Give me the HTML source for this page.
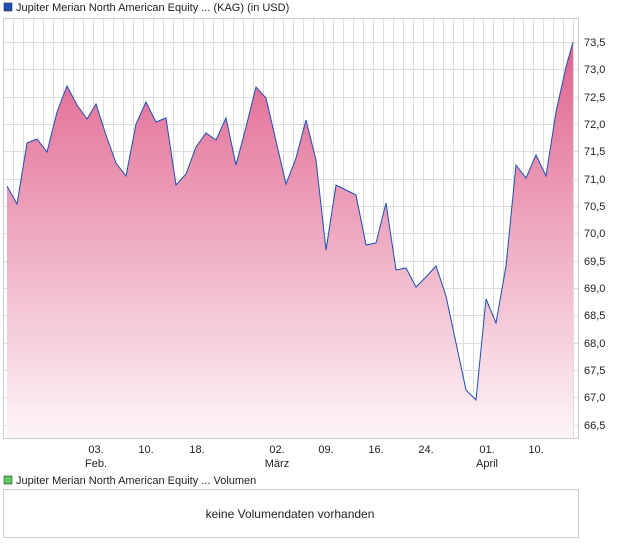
<!DOCTYPE html>
<html><head><meta charset="utf-8"><style>
body{margin:0;background:#fff;width:620px;height:546px;overflow:hidden;font-family:"Liberation Sans",sans-serif;}
</style></head><body>
<svg width="620" height="546" xmlns="http://www.w3.org/2000/svg" font-family="Liberation Sans, sans-serif">
<defs>
<linearGradient id="g" x1="0" y1="0" x2="0" y2="1">
<stop offset="0" stop-color="#e0628e"/><stop offset="1" stop-color="#fdf5f8"/>
</linearGradient>
<pattern id="vg" x="3" y="0" width="10" height="10" patternUnits="userSpaceOnUse"><line x1="0.5" y1="0" x2="0.5" y2="10" stroke="#dcdcdc"/></pattern>
</defs>
<rect x="4" y="3" width="8" height="8" fill="#1c4fb5" stroke="#333" stroke-width="0.6"/>
<text x="16" y="11" font-size="11" fill="#222">Jupiter Merian North American Equity ... (KAG) (in USD)</text>
<rect x="3.5" y="18.5" width="575" height="420" fill="#fff" stroke="#ccc"/>
<rect x="4" y="19" width="574" height="419" fill="url(#vg)"/>
<g stroke="#dcdcdc">
<line x1="4" x2="578" y1="42.5" y2="42.5"/><line x1="4" x2="578" y1="69.5" y2="69.5"/><line x1="4" x2="578" y1="97.5" y2="97.5"/><line x1="4" x2="578" y1="124.5" y2="124.5"/><line x1="4" x2="578" y1="151.5" y2="151.5"/><line x1="4" x2="578" y1="179.5" y2="179.5"/><line x1="4" x2="578" y1="206.5" y2="206.5"/><line x1="4" x2="578" y1="233.5" y2="233.5"/><line x1="4" x2="578" y1="261.5" y2="261.5"/><line x1="4" x2="578" y1="288.5" y2="288.5"/><line x1="4" x2="578" y1="315.5" y2="315.5"/><line x1="4" x2="578" y1="343.5" y2="343.5"/><line x1="4" x2="578" y1="370.5" y2="370.5"/><line x1="4" x2="578" y1="397.5" y2="397.5"/><line x1="4" x2="578" y1="425.5" y2="425.5"/>
</g>
<path d="M7,186 L17,204 L27,143 L37,139 L47,152 L57,112 L67,86 L77,105 L87,119 L96,104 L106,135 L116,163 L126,176 L136,124 L146,102 L156,122 L166,118 L176,185 L186,174 L196,147 L206,133 L216,140 L226,118 L236,165 L246,127 L256,87 L266,98 L276,141 L286,184 L296,158 L306,120 L316,160 L326,250 L336,185 L346,190 L356,195 L366,245 L376,243 L386,203 L396,270 L406,268 L416,287 L426,277 L436,266 L446,296 L456,343 L466,390 L476,400 L486,299 L496,323 L506,266 L516,165 L526,178 L536,155 L546,176 L556,112 L566,67 L573,42 L573,438 L7,438 Z" fill="url(#g)"/>
<path d="M7,186 L17,204 L27,143 L37,139 L47,152 L57,112 L67,86 L77,105 L87,119 L96,104 L106,135 L116,163 L126,176 L136,124 L146,102 L156,122 L166,118 L176,185 L186,174 L196,147 L206,133 L216,140 L226,118 L236,165 L246,127 L256,87 L266,98 L276,141 L286,184 L296,158 L306,120 L316,160 L326,250 L336,185 L346,190 L356,195 L366,245 L376,243 L386,203 L396,270 L406,268 L416,287 L426,277 L436,266 L446,296 L456,343 L466,390 L476,400 L486,299 L496,323 L506,266 L516,165 L526,178 L536,155 L546,176 L556,112 L566,67 L573,42" fill="none" stroke="#1c4fb5" stroke-width="1"/>
<g font-size="11" fill="#222">
<text x="584" y="46">73,5</text><text x="584" y="73">73,0</text><text x="584" y="101">72,5</text><text x="584" y="128">72,0</text><text x="584" y="155">71,5</text><text x="584" y="183">71,0</text><text x="584" y="210">70,5</text><text x="584" y="237">70,0</text><text x="584" y="265">69,5</text><text x="584" y="292">69,0</text><text x="584" y="319">68,5</text><text x="584" y="347">68,0</text><text x="584" y="374">67,5</text><text x="584" y="401">67,0</text><text x="584" y="429">66,5</text>
</g>
<g font-size="11" fill="#222" text-anchor="middle">
<text x="96" y="453">03.</text><text x="96" y="467">Feb.</text>
<text x="146" y="453">10.</text><text x="197" y="453">18.</text>
<text x="277" y="453">02.</text><text x="277" y="467">März</text>
<text x="326" y="453">09.</text><text x="376" y="453">16.</text><text x="426" y="453">24.</text>
<text x="487" y="453">01.</text><text x="487" y="467">April</text><text x="536" y="453">10.</text>
</g>
<rect x="4" y="476" width="8" height="8" fill="#5ec95e" stroke="#333" stroke-width="0.6"/>
<text x="16" y="484" font-size="11" fill="#222">Jupiter Merian North American Equity ... Volumen</text>
<rect x="3.5" y="489.5" width="575" height="48" fill="#fff" stroke="#ccc"/>
<text x="290" y="518" font-size="12" fill="#222" text-anchor="middle">keine Volumendaten vorhanden</text>
</svg>
</body></html>
